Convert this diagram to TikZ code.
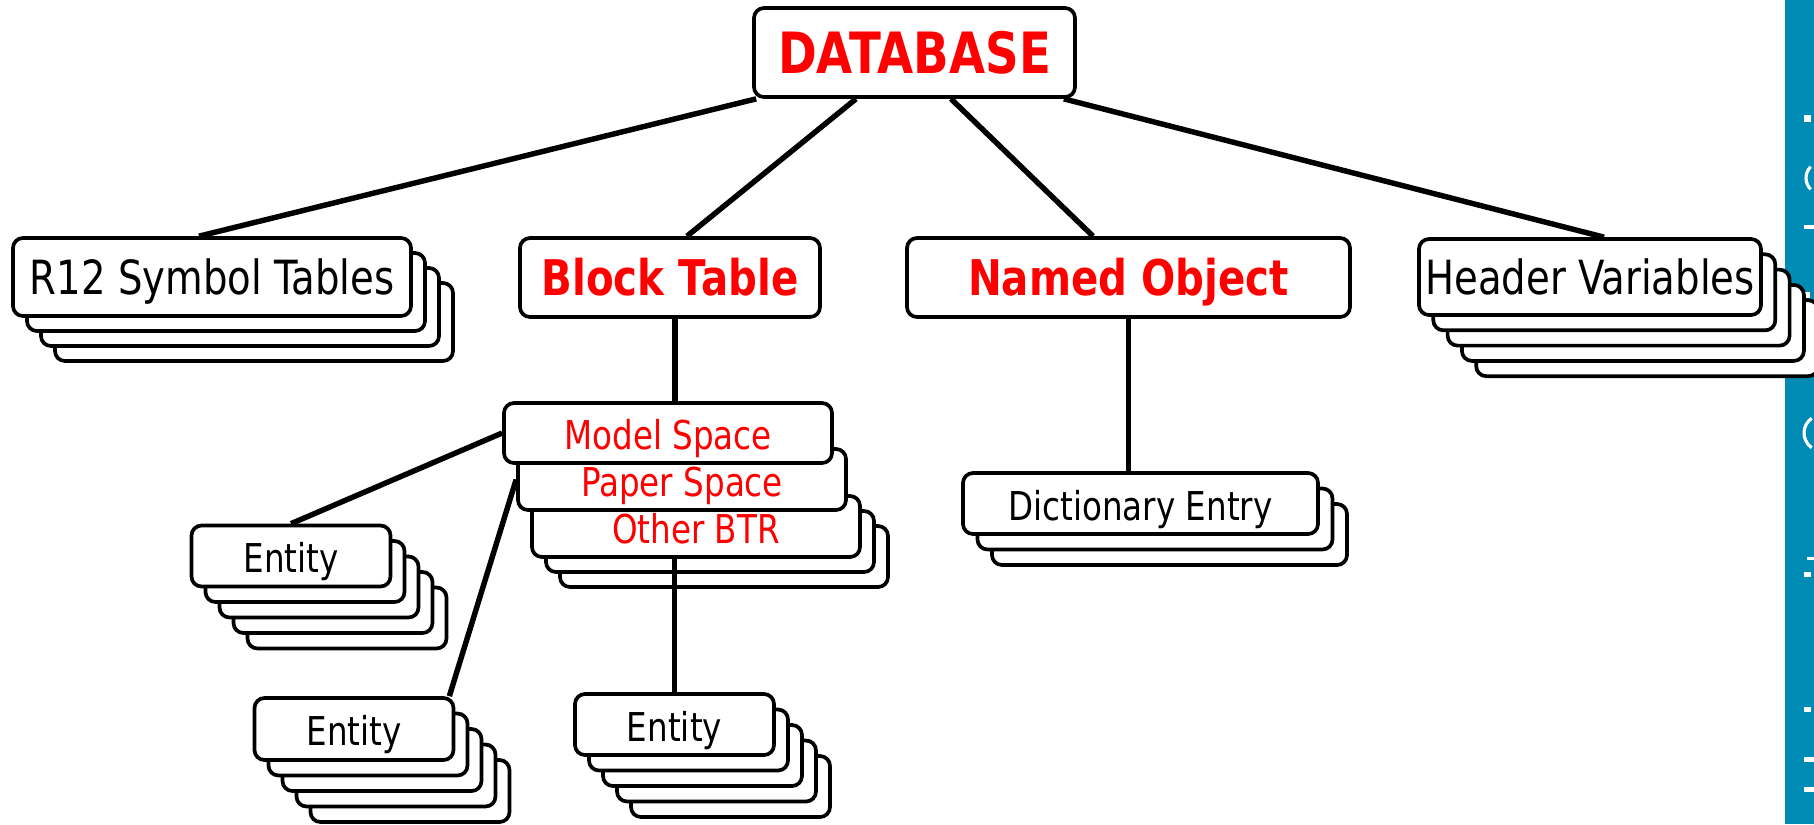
\documentclass[tikz,border=0pt]{standalone}
\usepackage{fontspec}
\setmainfont{DejaVu Sans}[FakeStretch=0.82]
\usetikzlibrary{shadows}
\definecolor{barblue}{RGB}{0,139,181}
\definecolor{labelred}{RGB}{255,0,0}
\pgfdeclarelayer{background}
\pgfsetlayers{background,main}

\tikzset{
  box/.style={draw=black, line width=1.05pt, fill=white, rounded corners=1mm,
    inner sep=0pt, align=center},
  % one copy of a box, shifted behind it
  sh/.style 2 args={copy shadow={shadow xshift=#1, shadow yshift=#2,
    draw=black, fill=white}},
  stackR/.style={sh={4.2mm}{-4.5mm}, sh={2.8mm}{-3mm}, sh={1.4mm}{-1.5mm}},
  stackH/.style={sh={5.72mm}{-6.12mm}, sh={4.29mm}{-4.59mm}, sh={2.86mm}{-3.06mm}, sh={1.43mm}{-1.53mm}},
  stackE/.style={sh={5.6mm}{-6.2mm}, sh={4.2mm}{-4.65mm}, sh={2.8mm}{-3.1mm}, sh={1.4mm}{-1.55mm}},
  stackD/.style={sh={2.9mm}{-3.1mm}, sh={1.45mm}{-1.55mm}},
  stackO/.style={sh={2.8mm}{-3mm}, sh={1.4mm}{-1.5mm}},
  dbtext/.style={font=\bfseries\fontsize{16.2}{19}\selectfont, text=labelred,
    text height=11.8pt, text depth=0pt},
  headtext/.style={font=\bfseries\fontsize{14}{17}\selectfont, text=labelred,
    text height=10.2pt, text depth=0pt},
  bigtext/.style={font=\fontsize{13.4}{16}\selectfont, text=black,
    text height=9.8pt, text depth=0pt},
  smalltext/.style={font=\fontsize{11.3}{14}\selectfont, text=black,
    text height=9.6pt, text depth=0pt},
  redsmall/.style={smalltext, text=labelred},
  link/.style={draw=black, line width=1.55pt},
  barmark/.style={fill=white},
  barstroke/.style={draw=white, line width=0.9pt},
}

\begin{document}
\begin{tikzpicture}[x=0.1mm, y=-0.1mm]
\useasboundingbox (0,0) rectangle (1814,824);

% top level
\node[box, dbtext, minimum width=32.1mm, minimum height=8.9mm] (db) at (914.5,52.5) {DATABASE};

% second level
\node[box, bigtext, stackR, minimum width=39.8mm, minimum height=7.8mm] (r12) at (212,277) {R12 Symbol Tables};
\node[box, headtext, minimum width=30mm, minimum height=7.9mm] (bt) at (670,277.5) {Block Table};
\node[box, headtext, minimum width=44.3mm, minimum height=7.9mm] (no) at (1128.5,277.5) {Named Object};
\node[box, bigtext, stackH, minimum width=34.2mm, minimum height=7.6mm] (hv) at (1590,277) {Header Variables};

% block table records
\node[box, redsmall, stackO, minimum width=32.8mm, minimum height=6.1mm] (ob) at (696,526.5) {Other BTR};
\node[box, redsmall, minimum width=32.8mm, minimum height=6.1mm] (ps) at (682,479.5) {Paper Space};
\node[box, redsmall, minimum width=32.8mm, minimum height=6mm] (ms) at (668,433) {Model Space};

% dictionary
\node[box, smalltext, stackD, minimum width=35.5mm, minimum height=6.1mm] (de) at (1140.5,503.5) {Dictionary Entry};

% entities
\node[box, smalltext, stackE, minimum width=19.9mm, minimum height=6.1mm] (e1) at (291,556) {Entity};
\node[box, smalltext, stackE, minimum width=19.9mm, minimum height=6.2mm] (e2) at (354,729) {Entity};
\node[box, smalltext, stackE, minimum width=19.9mm, minimum height=6.1mm] (e3) at (674.5,724.5) {Entity};

\coordinate (btx) at ([xshift=0.5mm]bt.south);

\begin{pgfonlayer}{background}
  % side bar
  \fill[barblue] (1785,0) rectangle (1814,824);
  \fill[barmark] (1804,115) rectangle (1811,122);
  \draw[barstroke] (1822,178) ++(135:16) arc (135:225:16);
  \fill[barmark] (1804,225) rectangle (1814,229);
  \fill[barmark] (1804,292) rectangle (1810,298);
  \draw[barstroke] (1822,433) ++(125:18) arc (125:235:18);
  \fill[barmark] (1807,557) rectangle (1814,560);
  \fill[barmark] (1804,572) rectangle (1811,577);
  \fill[barmark] (1804,707) rectangle (1811,712);
  \fill[barmark] (1804,757) rectangle (1814,762);
  \fill[barmark] (1804,787) rectangle (1814,792);

  % connectors
  \draw[link] ([xshift=0.4mm]db.south west) -- ([xshift=-1.3mm]r12.north);
  \draw[link] ([xshift=-5.85mm]db.south) -- ([xshift=1.7mm]bt.north);
  \draw[link] ([xshift=3.65mm]db.south) -- ([xshift=-3.55mm]no.north);
  \draw[link] ([xshift=-1.3mm]db.south east) -- ([xshift=1.4mm]hv.north);
  \draw[link] (btx) -- (btx |- ms.north);
  \draw[link] (no.south) -- (no.south |- de.north);
  \draw[link] (ms.west) -- (e1.north);
  \draw[link] (ps.west) -- ([xshift=-0.6mm]e2.north east);
\end{pgfonlayer}

\draw[link] (e3.north) -- (e3.north |- ob.south);
\end{tikzpicture}
\end{document}
